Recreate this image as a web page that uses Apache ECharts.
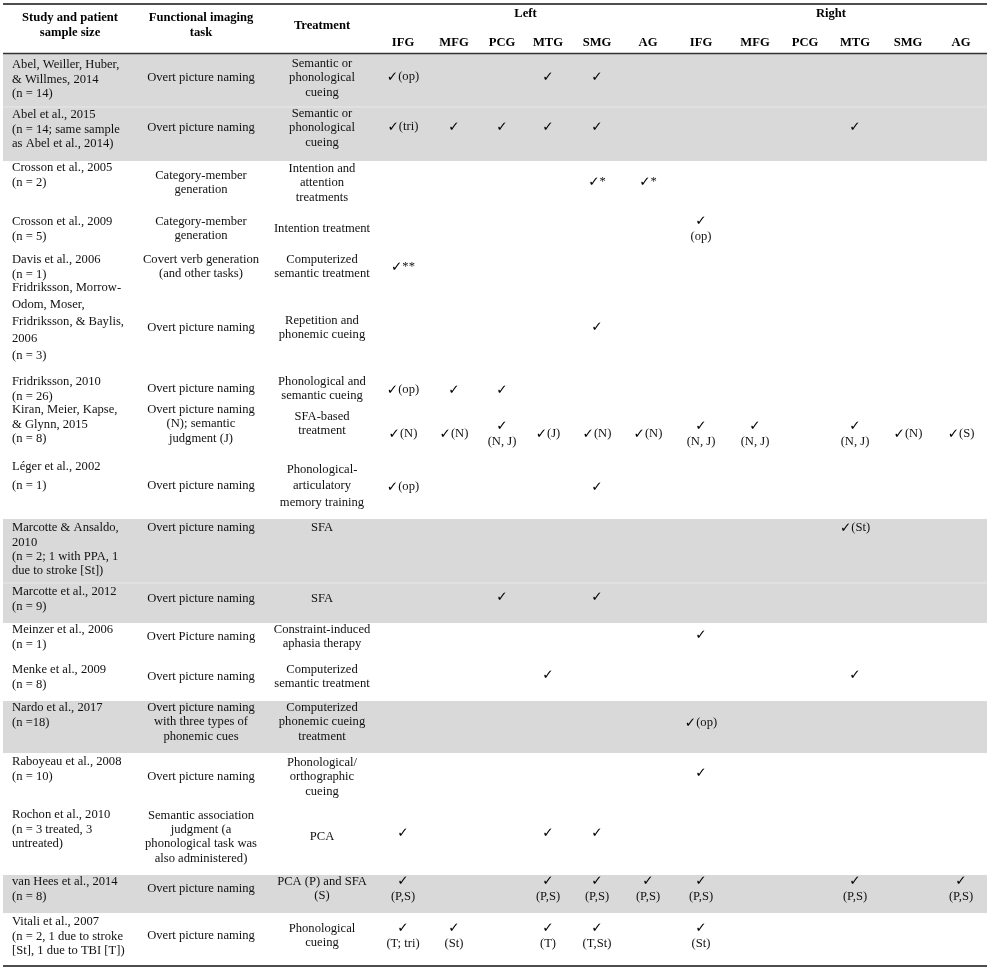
<!DOCTYPE html>
<html><head><meta charset="utf-8">
<script src="https://cdn.jsdelivr.net/npm/echarts@6/dist/echarts.min.js"></script>
<style>html,body{margin:0;padding:0;background:#fff}#chart{width:992px;height:973px}</style>
</head><body><div id="chart"></div>
<script>
// ---------------- DATA ----------------
const hemispheres = ['Left', 'Right'];
const regions = ['IFG', 'MFG', 'PCG', 'MTG', 'SMG', 'AG'];
const headerStudy = ['Study and patient', 'sample size'];
const headerTask = ['Functional imaging', 'task'];
const headerTreatment = ['Treatment'];

const studies = [
  ['Abel, Weiller, Huber,', '& Willmes, 2014', '(n = 14)'],
  ['Abel et al., 2015', '(n = 14; same sample', 'as Abel et al., 2014)'],
  ['Crosson et al., 2005', '(n = 2)'],
  ['Crosson et al., 2009', '(n = 5)'],
  ['Davis et al., 2006', '(n = 1)'],
  ['Fridriksson, Morrow-', 'Odom, Moser,', 'Fridriksson, & Baylis,', '2006', '(n = 3)'],
  ['Fridriksson, 2010', '(n = 26)'],
  ['Kiran, Meier, Kapse,', '& Glynn, 2015', '(n = 8)'],
  ['Léger et al., 2002', '(n = 1)'],
  ['Marcotte & Ansaldo,', '2010', '(n = 2; 1 with PPA, 1', 'due to stroke [St])'],
  ['Marcotte et al., 2012', '(n = 9)'],
  ['Meinzer et al., 2006', '(n = 1)'],
  ['Menke et al., 2009', '(n = 8)'],
  ['Nardo et al., 2017', '(n =18)'],
  ['Raboyeau et al., 2008', '(n = 10)'],
  ['Rochon et al., 2010', '(n = 3 treated, 3', 'untreated)'],
  ['van Hees et al., 2014', '(n = 8)'],
  ['Vitali et al., 2007', '(n = 2, 1 due to stroke', '[St], 1 due to TBI [T])']
];

const tasks = [
  ['Overt picture naming'],
  ['Overt picture naming'],
  ['Category-member', 'generation'],
  ['Category-member', 'generation'],
  ['Covert verb generation', '(and other tasks)'],
  ['Overt picture naming'],
  ['Overt picture naming'],
  ['Overt picture naming', '(N); semantic', 'judgment (J)'],
  ['Overt picture naming'],
  ['Overt picture naming'],
  ['Overt picture naming'],
  ['Overt Picture naming'],
  ['Overt picture naming'],
  ['Overt picture naming', 'with three types of', 'phonemic cues'],
  ['Overt picture naming'],
  ['Semantic association', 'judgment (a', 'phonological task was', 'also administered)'],
  ['Overt picture naming'],
  ['Overt picture naming']
];

const treatments = [
  ['Semantic or', 'phonological', 'cueing'],
  ['Semantic or', 'phonological', 'cueing'],
  ['Intention and', 'attention', 'treatments'],
  ['Intention treatment'],
  ['Computerized', 'semantic treatment'],
  ['Repetition and', 'phonemic cueing'],
  ['Phonological and', 'semantic cueing'],
  ['SFA-based', 'treatment'],
  ['Phonological-', 'articulatory', 'memory training'],
  ['SFA'],
  ['SFA'],
  ['Constraint-induced', 'aphasia therapy'],
  ['Computerized', 'semantic treatment'],
  ['Computerized', 'phonemic cueing', 'treatment'],
  ['Phonological/', 'orthographic', 'cueing'],
  ['PCA'],
  ['PCA (P) and SFA', '(S)'],
  ['Phonological', 'cueing']
];

// Left IFG, MFG, PCG, MTG, SMG, AG, Right IFG, MFG, PCG, MTG, SMG, AG
const findings = [
  ['✓(op)', '', '', '✓', '✓', '', '', '', '', '', '', ''],
  ['✓(tri)', '✓', '✓', '✓', '✓', '', '', '', '', '✓', '', ''],
  ['', '', '', '', '✓*', '✓*', '', '', '', '', '', ''],
  ['', '', '', '', '', '', '✓\n(op)', '', '', '', '', ''],
  ['✓**', '', '', '', '', '', '', '', '', '', '', ''],
  ['', '', '', '', '✓', '', '', '', '', '', '', ''],
  ['✓(op)', '✓', '✓', '', '', '', '', '', '', '', '', ''],
  ['✓(N)', '✓(N)', '✓\n(N, J)', '✓(J)', '✓(N)', '✓(N)', '✓\n(N, J)', '✓\n(N, J)', '', '✓\n(N, J)', '✓(N)', '✓(S)'],
  ['✓(op)', '', '', '', '✓', '', '', '', '', '', '', ''],
  ['', '', '', '', '', '', '', '', '', '✓(St)', '', ''],
  ['', '', '✓', '', '✓', '', '', '', '', '', '', ''],
  ['', '', '', '', '', '', '✓', '', '', '', '', ''],
  ['', '', '', '✓', '', '', '', '', '', '✓', '', ''],
  ['', '', '', '', '', '', '✓(op)', '', '', '', '', ''],
  ['', '', '', '', '', '', '✓', '', '', '', '', ''],
  ['✓', '', '', '✓', '✓', '', '', '', '', '', '', ''],
  ['✓\n(P,S)', '', '', '✓\n(P,S)', '✓\n(P,S)', '✓\n(P,S)', '✓\n(P,S)', '', '', '✓\n(P,S)', '', '✓\n(P,S)'],
  ['✓\n(T; tri)', '✓\n(St)', '', '✓\n(T)', '✓\n(T,St)', '', '✓\n(St)', '', '', '', '', '']
];

const shadedRows = [0, 1, 9, 10, 13, 16];

// ---------------- LAYOUT (positions / styles) ----------------
const layout = {
  tableLeft: 3, tableRight: 987,
  studyX: 12, headStudyX: 70, taskX: 201, treatX: 322,
  regionX: [403, 454, 502, 548, 597, 648, 701, 755, 805, 855, 908, 961],
  hemiY: 14, regionHeadY: 42.5, headY: 25.5, headLH: 15,
  rowTop: [54, 107, 161, 214, 252, 280, 374, 402, 459, 519, 583, 623, 661, 701, 753, 806, 875, 913],
  tableBottom: 964,
  studyY: [65, 115, 168, 222, 260, 288, 382, 410, 467, 528, 592, 630, 670, 708, 762, 815, 882, 922],
  studyLH: { 5: 17, 8: 19 },
  midY:   [78, 128, 183, 229, 267, 328, 389, 424, 486, 528, 599, 637, 677, 722, 777, 837, 889, 936],
  treatLH: { 8: 16.5 },
  markY:  [77, 127, 182, 229, 267, 327, 390, 434, 487, 528, 597, 635, 675, 723, 773, 833, 889, 936],
  rules: [[4, 2, '#4d4d4d'], [53.5, 1.4, '#333333'], [966, 2, '#4d4d4d']],
  lineH: 14.3, markLineH: 16,
  font: '"Liberation Serif", "Times New Roman", serif',
  fontSize: 12.6, textColor: '#111111', shade: '#d9d9d9',
  checkFont: '"DejaVu Sans", sans-serif', checkSize: 13.5
};

// ---------------- BUILD CELLS ----------------
const cells = [];
function addCell(x, y, lines, opt) {
  cells.push(Object.assign({ x: x, y: y, text: lines.join('\n'), lh: layout.lineH }, opt));
}
// header
addCell(layout.headStudyX, layout.headY, headerStudy, { bold: true, align: 'center', lh: layout.headLH });
addCell(layout.taskX, layout.headY, headerTask, { bold: true, align: 'center', lh: layout.headLH });
addCell(layout.treatX, layout.headY, headerTreatment, { bold: true, align: 'center' });
hemispheres.forEach(function (h, i) {
  const xs = layout.regionX.slice(i * 6, i * 6 + 6);
  addCell((xs[0] + xs[5]) / 2, layout.hemiY, [h], { bold: true, align: 'center' });
});
layout.regionX.forEach(function (x, i) {
  addCell(x, layout.regionHeadY, [regions[i % 6]], { bold: true, align: 'center' });
});
// body
studies.forEach(function (lines, r) {
  const slh = layout.studyLH[r] || layout.lineH;
  const cy = layout.studyY[r] + (lines.length - 1) * slh / 2;
  addCell(layout.studyX, cy, lines, { align: 'left', lh: slh });
  addCell(layout.taskX, layout.midY[r], tasks[r], { align: 'center' });
  addCell(layout.treatX, layout.midY[r], treatments[r], { align: 'center', lh: layout.treatLH[r] || layout.lineH });
  findings[r].forEach(function (t, c) {
    if (!t) return;
    cells.push({ x: layout.regionX[c], y: layout.markY[r], text: t, mark: true, align: 'center', lh: layout.markLineH });
  });
});

// ---------------- CHART ----------------
const chart = echarts.init(document.getElementById('chart'), null, { renderer: 'canvas' });

const bandData = shadedRows.map(function (r) {
  const bottom = r + 1 < layout.rowTop.length ? layout.rowTop[r + 1] : layout.tableBottom;
  return [layout.tableLeft, layout.rowTop[r], layout.tableRight, bottom];
});
const sepData = shadedRows.filter(function (r) { return shadedRows.indexOf(r + 1) >= 0; })
  .map(function (r) { return [layout.tableLeft, layout.rowTop[r + 1], 1, '#e8e8e8']; });
const ruleData = layout.rules.map(function (d) { return [layout.tableLeft, d[0], d[1], d[2]]; }).concat(sepData);

const option = {
  animation: false,
  backgroundColor: '#ffffff',
  grid: { left: 0, right: 0, top: 0, bottom: 0 },
  xAxis: { type: 'value', min: 0, max: 992, show: false },
  yAxis: { type: 'value', min: 0, max: 973, inverse: true, show: false },
  series: [
    {
      type: 'custom', name: 'shading', clip: false, silent: true,
      data: bandData,
      renderItem: function (params, api) {
        const p0 = api.coord([api.value(0), api.value(1)]);
        const p1 = api.coord([api.value(2), api.value(3)]);
        return { type: 'rect', shape: { x: p0[0], y: p0[1], width: p1[0] - p0[0], height: p1[1] - p0[1] },
                 style: { fill: layout.shade } };
      }
    },
    {
      type: 'custom', name: 'rules', clip: false, silent: true,
      data: ruleData.map(function (d) { return [d[0], d[1]]; }),
      renderItem: function (params, api) {
        const d = ruleData[params.dataIndex];
        const p0 = api.coord([layout.tableLeft, d[1]]);
        const p1 = api.coord([layout.tableRight, d[1]]);
        return { type: 'line', shape: { x1: p0[0], y1: p0[1], x2: p1[0], y2: p1[1] },
                 style: { stroke: d[3], lineWidth: d[2] } };
      }
    },
    {
      type: 'custom', name: 'cells', clip: false, silent: true,
      data: cells.map(function (c) { return [c.x, c.y]; }),
      renderItem: function (params, api) {
        const c = cells[params.dataIndex];
        const p = api.coord([api.value(0), api.value(1)]);
        const style = {
          text: c.mark ? c.text.split('✓').join('{c|✓}') : c.text,
          fill: c.bold ? '#000000' : layout.textColor,
          fontFamily: layout.font,
          fontSize: layout.fontSize,
          fontWeight: c.bold ? 'bold' : 'normal',
          align: c.align,
          verticalAlign: 'middle',
          lineHeight: c.lh
        };
        if (c.mark) {
          style.rich = {
            c: { fontFamily: layout.checkFont, fontSize: layout.checkSize, fill: '#000000', color: '#000000',
                 lineHeight: layout.markLineH }
          };
        }
        return { type: 'text', x: p[0], y: p[1], style: style };
      }
    }
  ]
};
chart.setOption(option);
</script>
</body></html>
